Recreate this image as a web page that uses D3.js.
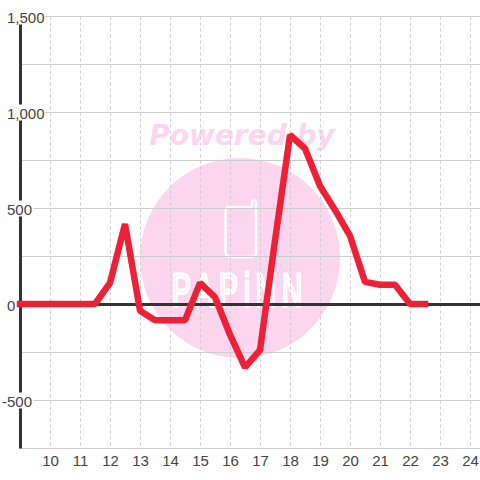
<!DOCTYPE html>
<html>
<head>
<meta charset="utf-8">
<script src="https://cdn.jsdelivr.net/npm/d3@7"></script>
<style>
html, body { margin: 0; padding: 0; background: #fff; }
svg { display: block; }
text { font-family: "Liberation Sans", sans-serif; }
</style>
</head>
<body>
<div id="chart-area"></div>
<script>
// half hour steps from 9:00 to 22:30
const hours = [9, 9.5, 10, 10.5, 11, 11.5, 12, 12.5, 13, 13.5, 14, 14.5, 15, 15.5,
	16, 16.5, 17, 17.5, 18, 18.5, 19, 19.5, 20, 20.5, 21, 21.5, 22, 22.5];
const values = [0, 0, 0, 0, 0, 0, 110, 417, -35, -85, -85, -85, 110, 35,
	-160, -330, -240, 330, 880, 810, 615, 490, 355, 115, 100, 100, 0, 0];

const xTicks = [10, 11, 12, 13, 14, 15, 16, 17, 18, 19, 20, 21, 22, 23, 24];
const yGrid = [-750, -500, -250, 0, 250, 500, 750, 1000, 1250, 1500];
const yLabels = [-500, 0, 500, 1000, 1500];

const width = 480;
const height = 480;

const svg = d3.select("#chart-area")
	.append("svg")
		.attr("width", width)
		.attr("height", height);

const xScale = d3.scaleLinear()
	.domain([9, 24])
	.range([20.5, 470.5]);

const yScale = d3.scaleLinear()
	.domain([-750, 1500])
	.range([448.5, 16.5]);

// watermark
const mark = svg.append("g");

mark.append("circle")
	.attr("cx", 240)
	.attr("cy", 258)
	.attr("r", 100)
	.attr("fill", "#fcd6ee");

mark.append("text")
	.attr("x", 242)
	.attr("y", 145)
	.attr("text-anchor", "middle")
	.attr("font-size", 28)
	.attr("font-weight", "bold")
	.attr("font-style", "italic")
	.style("font-family", "'DejaVu Sans', sans-serif")
	.attr("fill", "#fcd6ee")
	.text("Powered by");

mark.append("path")
	.attr("d", "M229 207 H252 V202 Q254 199 256 202 V252 Q256 257 251 257 H230 Q225.5 257 225.5 252 V211 Q225.5 207 229 207")
	.attr("fill", "none")
	.attr("stroke", "#fff")
	.attr("stroke-width", 2.5);

mark.append("text")
	.attr("transform", "translate(240,306) scale(0.62,1)")
	.attr("text-anchor", "middle")
	.attr("font-size", 46)
	.attr("letter-spacing", 9)
	.attr("fill", "#fcd6ee")
	.attr("stroke", "#fff")
	.attr("stroke-width", 3)
	.text("PAPiNN");

// vertical dotted grid
svg.append("g")
	.selectAll("line")
	.data(xTicks)
	.join("line")
		.attr("x1", d => xScale(d))
		.attr("x2", d => xScale(d))
		.attr("y1", yScale(1500))
		.attr("y2", yScale(-750))
		.attr("stroke", "#ccc")
		.attr("stroke-dasharray", "3,3");

// horizontal grid
svg.append("g")
	.selectAll("line")
	.data(yGrid)
	.join("line")
		.attr("x1", 20)
		.attr("x2", width)
		.attr("y1", d => yScale(d))
		.attr("y2", d => yScale(d))
		.attr("stroke", "#ccc");

// zero line
svg.append("line")
	.attr("x1", 20)
	.attr("x2", width)
	.attr("y1", yScale(0))
	.attr("y2", yScale(0))
	.attr("stroke", "#333")
	.attr("stroke-width", 3);

// left axis
svg.append("line")
	.attr("x1", xScale(9))
	.attr("x2", xScale(9))
	.attr("y1", yScale(1500))
	.attr("y2", yScale(-750))
	.attr("stroke", "#333")
	.attr("stroke-width", 3);

// y labels, white box hides the axis behind them
const yLabel = svg.append("g")
	.selectAll("g")
	.data(yLabels)
	.join("g");

const yText = yLabel.append("text")
	.attr("x", d => d < 0 ? 2 : 7)
	.attr("y", d => yScale(d) + 6)
	.attr("font-size", 15)
	.attr("fill", "#444")
	.text(d => d3.format(",")(d).replace("\u2212", "-"));

yLabel.insert("rect", "text")
	.each(function(d, i) {
		const b = yText.nodes()[i].getBBox();
		d3.select(this)
			.attr("x", b.x)
			.attr("y", yScale(d) - 8)
			.attr("width", b.width + 1)
			.attr("height", 16)
			.attr("fill", "#fff");
	});

// data line
const line = d3.line()
	.x((d, i) => xScale(hours[i]))
	.y(d => yScale(d));

svg.append("path")
	.attr("d", line(values))
	.attr("transform", "translate(-0.5,-0.5)")
	.attr("fill", "none")
	.attr("stroke", "#ee2035")
	.attr("stroke-width", 6.5)
	.attr("stroke-linecap", "square")
	.attr("stroke-linejoin", "bevel");

// x labels
svg.append("g")
	.selectAll("text")
	.data(xTicks)
	.join("text")
		.attr("x", d => xScale(d))
		.attr("y", 466)
		.attr("text-anchor", "middle")
		.attr("font-size", 15)
		.attr("fill", "#444")
		.text(d => d);
</script>
</body>
</html>
